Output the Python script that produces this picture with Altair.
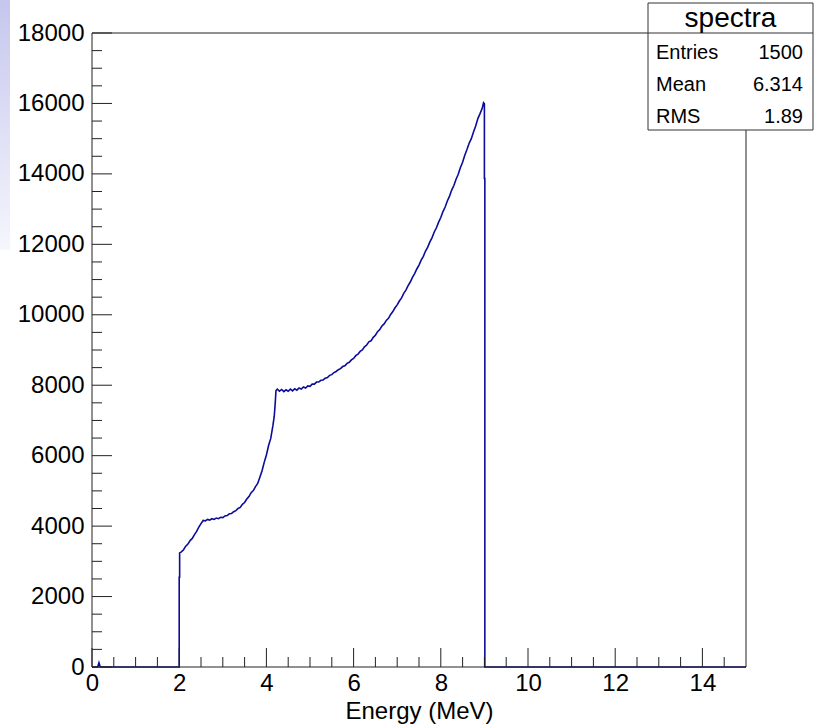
import altair as alt
import pandas as pd

# ---- spectrum (energy in MeV, counts) ----
# repeated energies give the vertical edges of the histogram
energy = [0.00, 0.13, 0.16, 0.19,
          2.00, 2.00, 2.01, 2.01, 2.05, 2.10, 2.15, 2.20, 2.25, 2.30, 2.35, 2.40, 2.45,
          2.50, 2.55, 2.60, 2.65, 2.70, 2.75, 2.80, 2.85, 2.90, 2.95,
          3.00, 3.05, 3.10, 3.15, 3.20, 3.25, 3.30, 3.35, 3.40, 3.45,
          3.50, 3.55, 3.60, 3.65, 3.70, 3.75, 3.80, 3.85, 3.90, 3.95,
          4.00, 4.05, 4.10, 4.15, 4.18, 4.20, 4.22, 4.25, 4.30, 4.35, 4.40, 4.45,
          4.50, 4.55, 4.60, 4.65, 4.70, 4.75, 4.80, 4.85, 4.90, 4.95,
          5.00, 5.05, 5.10, 5.15, 5.20, 5.25, 5.30, 5.35, 5.40, 5.45,
          5.50, 5.55, 5.60, 5.65, 5.70, 5.75, 5.80, 5.85, 5.90, 5.95,
          6.00, 6.05, 6.10, 6.15, 6.20, 6.25, 6.30, 6.35, 6.40, 6.45,
          6.50, 6.55, 6.60, 6.65, 6.70, 6.75, 6.80, 6.85, 6.90, 6.95,
          7.00, 7.05, 7.10, 7.15, 7.20, 7.25, 7.30, 7.35, 7.40, 7.45,
          7.50, 7.55, 7.60, 7.65, 7.70, 7.75, 7.80, 7.85, 7.90, 7.95,
          8.00, 8.05, 8.10, 8.15, 8.20, 8.25, 8.30, 8.35, 8.40, 8.45,
          8.50, 8.55, 8.60, 8.65, 8.70, 8.75, 8.80, 8.85, 8.90, 8.95,
          8.98, 9.00, 9.00, 9.01, 9.01, 15.00]
counts = [0, 0, 120, 0,
          0, 2550, 2550, 3240, 3270, 3330, 3430, 3490, 3590, 3650, 3760, 3850, 3970,
          4070, 4160, 4150, 4190, 4170, 4210, 4190, 4230, 4210, 4250,
          4240, 4290, 4300, 4350, 4360, 4410, 4440, 4500, 4530, 4620,
          4670, 4770, 4840, 4950, 5010, 5120, 5210, 5390, 5570, 5810,
          6020, 6290, 6490, 6860, 7120, 7450, 7850, 7890, 7830, 7880, 7820, 7870,
          7830, 7890, 7840, 7900, 7860, 7920, 7890, 7950, 7920, 7980,
          7970, 8030, 8030, 8090, 8090, 8140, 8150, 8200, 8220, 8280,
          8300, 8360, 8390, 8440, 8470, 8530, 8550, 8620, 8650, 8720,
          8760, 8840, 8880, 8960, 9000, 9090, 9140, 9230, 9260, 9360,
          9420, 9520, 9580, 9680, 9740, 9840, 9900, 10010, 10090, 10200,
          10280, 10390, 10480, 10610, 10700, 10830, 10930, 11060, 11170, 11300,
          11410, 11550, 11660, 11810, 11920, 12070, 12190, 12350, 12470, 12630,
          12760, 12930, 13060, 13230, 13370, 13540, 13670, 13850, 13990, 14180,
          14330, 14530, 14690, 14870, 15000, 15190, 15360, 15570, 15710, 15860,
          16020, 15990, 13870, 13870, 0, 0]

x_tick_values = [0, 2, 4, 6, 8, 10, 12, 14]
y_tick_values = [0, 2000, 4000, 6000, 8000, 10000, 12000, 14000, 16000, 18000]
x_minor_values = [0.5, 1, 1.5, 2.5, 3, 3.5, 4.5, 5, 5.5, 6.5, 7, 7.5, 8.5, 9, 9.5,
                  10.5, 11, 11.5, 12.5, 13, 13.5, 14.5]
y_minor_values = [500, 1000, 1500, 2500, 3000, 3500, 4500, 5000, 5500, 6500, 7000, 7500,
                  8500, 9000, 9500, 10500, 11000, 11500, 12500, 13000, 13500,
                  14500, 15000, 15500, 16500, 17000, 17500]

stats_title = "spectra"
stat_names = ["Entries", "Mean", "RMS"]
stat_values = ["1500", "6.314", "1.89"]

W, H = 654, 634
FONT = "Liberation Sans"
FRAME = "#222222"
LINE = "#0c0c99"

xs = alt.Scale(domain=[0, 15], nice=False, zero=False)
ys = alt.Scale(domain=[0, 18000], nice=False)

x_axis = alt.Axis(values=x_tick_values, ticks=False, domain=False, grid=False,
                  labelFont=FONT, labelFontSize=24, labelColor="black",
                  labelPadding=4, labelOverlap=False, labelFlush=False, format="d",
                  title="Energy (MeV)", titleFont=FONT, titleFontSize=24,
                  titleFontWeight="normal", titleColor="black",
                  titleBaseline="alphabetic", titleY=51)
y_axis = alt.Axis(values=y_tick_values, ticks=False, domain=False, grid=False,
                  labelFont=FONT, labelFontSize=24, labelColor="black",
                  labelPadding=8, labelOverlap=False, labelFlush=False, format="d",
                  title=None)

hist = pd.DataFrame({"energy": energy, "counts": counts, "idx": list(range(len(energy)))})

line = alt.Chart(hist).mark_line(
    interpolate="linear", color=LINE, strokeWidth=1.6
).encode(
    x=alt.X("energy:Q", scale=xs, axis=x_axis),
    y=alt.Y("counts:Q", scale=ys, axis=y_axis),
    order=alt.Order("idx:Q"),
)

xmaj = alt.Chart(pd.DataFrame({"energy": x_tick_values})).mark_rule(color=FRAME, strokeWidth=1).encode(
    x=alt.X("energy:Q", scale=xs, axis=x_axis), y=alt.value(H), y2=alt.value(H - 19))
xmin = alt.Chart(pd.DataFrame({"energy": x_minor_values})).mark_rule(color=FRAME, strokeWidth=1).encode(
    x=alt.X("energy:Q", scale=xs, axis=x_axis), y=alt.value(H), y2=alt.value(H - 10))
ymaj = alt.Chart(pd.DataFrame({"counts": y_tick_values})).mark_rule(color=FRAME, strokeWidth=1).encode(
    y=alt.Y("counts:Q", scale=ys, axis=y_axis), x=alt.value(0), x2=alt.value(20))
ymin = alt.Chart(pd.DataFrame({"counts": y_minor_values})).mark_rule(color=FRAME, strokeWidth=1).encode(
    y=alt.Y("counts:Q", scale=ys, axis=y_axis), x=alt.value(0), x2=alt.value(10))

def rule(x, x2, y, y2, color=FRAME):
    return alt.Chart(pd.DataFrame({"a": [0]})).mark_rule(color=color, strokeWidth=1).encode(
        x=alt.value(x), x2=alt.value(x2), y=alt.value(y), y2=alt.value(y2))

frame = [rule(0, W, 0, 0), rule(0, W, H, H), rule(0, 0, 0, H), rule(W, W, 0, H)]

# stats box
BX0, BX1, BY0, BY1 = 556, 721, -30, 97
box = alt.Chart(pd.DataFrame({"a": [0]})).mark_rect(
    fill="white", stroke="#333333", strokeWidth=1
).encode(x=alt.value(BX0), x2=alt.value(BX1), y=alt.value(BY0), y2=alt.value(BY1))
divider = rule(BX0, BX1, 0, 0, "#333333")

def txt(s, x, y, align, size):
    return alt.Chart(pd.DataFrame({"a": [0]})).mark_text(
        font=FONT, fontSize=size, color="black", align=align, baseline="middle"
    ).encode(x=alt.value(x), y=alt.value(y), text=alt.value(s))

texts = [txt(stats_title, (BX0 + BX1) / 2, -14, "center", 28)]
row_y = [20, 52, 84]
for n, v, yy in zip(stat_names, stat_values, row_y):
    texts.append(txt(n, 564, yy, "left", 20))
    texts.append(txt(v, 711, yy, "right", 20))

# lavender window edge on the far left
edge = alt.Chart(pd.DataFrame({"a": [0]})).mark_rect(
    fill=alt.Gradient(gradient="linear", x1=0, y1=0, x2=0, y2=1,
                      stops=[alt.GradientStop(color="#c6c6ee", offset=0),
                             alt.GradientStop(color="#f6f6fd", offset=1)])
).encode(x=alt.value(-92), x2=alt.value(-82), y=alt.value(-33), y2=alt.value(217))

chart = alt.layer(
    edge, line, xmaj, xmin, ymaj, ymin, *frame, box, divider, *texts
).properties(
    width=W, height=H,
    autosize=alt.AutoSizeParams(type="none"),
    padding={"left": 92, "top": 33, "right": 71, "bottom": 61},
).configure_view(stroke=None)

chart.save("out.html", embed_options={"renderer": "svg", "actions": False})
